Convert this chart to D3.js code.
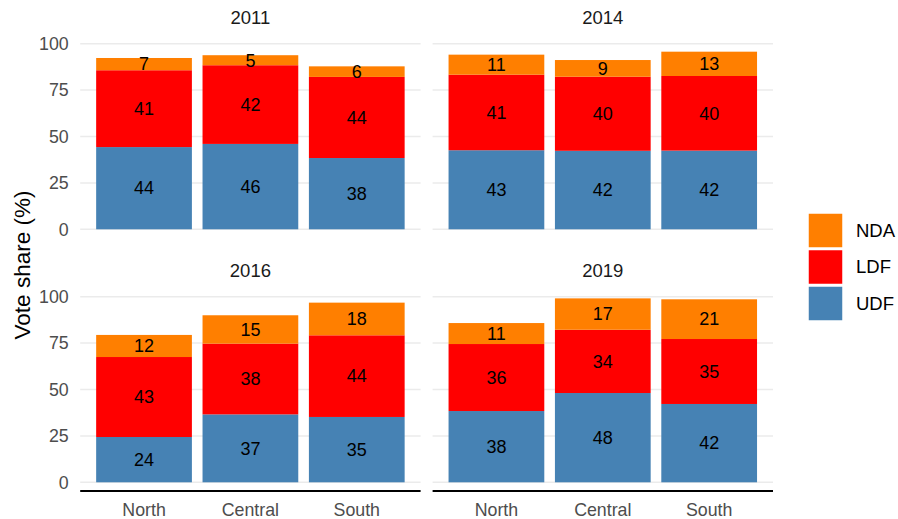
<!DOCTYPE html>
<html>
<head>
<meta charset="utf-8">
<script src="https://cdn.jsdelivr.net/npm/d3@7"></script>
<style>
  body { margin: 0; background: #fff; }
  text { font-family: "Liberation Sans", Arial, sans-serif; }
</style>
</head>
<body>
<div id="chart"></div>
<script>
// data
var years = ['2011', '2014', '2016', '2019'];
var regions = ['North', 'Central', 'South'];
var parties = ['UDF', 'LDF', 'NDA'];
var partyColors = ['steelblue', '#FF0000', '#FF7F00'];
var yTicks = [0, 25, 50, 75, 100];

// one array per party, in order years x regions
var udf = [44.3, 46.0, 38.4,  42.6, 42.3, 42.4,  24.4, 36.6, 35.2,  38.4, 48.1, 42.2];
var ldf = [41.4, 42.4, 43.7,  40.7, 39.9, 40.2,  43.1, 38.1, 44.0,  36.1, 34.1, 35.0];
var nda = [6.6, 5.4, 5.7,     10.8, 9.0, 13.1,   11.9, 15.3, 17.6,  11.3, 16.9, 21.4];

var width = 898, height = 519;
var panelW = 340.4, panelGap = 12;
var panelLeft = [80.2, 80.2 + panelW + panelGap];
var panelZero = [229.3, 482.3];   // pixel of y = 0 for each row
var unitPx = 1.856;              // pixels per vote-share point

var svg = d3.select('#chart')
    .append('svg')
    .attr('width', width)
    .attr('height', height);

var rows = years.map(function (year, i) {
    return regions.map(function (region, j) {
        var k = i * 3 + j;
        return { year: year, region: region, UDF: udf[k], LDF: ldf[k], NDA: nda[k] };
    });
});

var stack = d3.stack().keys(parties);
var color = d3.scaleOrdinal().domain(parties).range(partyColors);

years.forEach(function (year, i) {
    var col = i % 2, row = Math.floor(i / 2);
    var x0 = panelLeft[col];
    var xScale = d3.scaleBand()
        .domain(regions)
        .range([x0, x0 + panelW])
        .paddingInner(0.1)
        .paddingOuter(0.15);
    var yScale = d3.scaleLinear()
        .domain([0, 100])
        .range([panelZero[row], panelZero[row] - 100 * unitPx]);

    var panel = svg.append('g').attr('class', 'panel');

    // grid
    panel.selectAll('.grid')
        .data(yTicks)
        .enter()
        .append('line')
        .attr('x1', x0)
        .attr('x2', x0 + panelW)
        .attr('y1', function (d) { return yScale(d); })
        .attr('y2', function (d) { return yScale(d); })
        .attr('stroke', '#EBEBEB')
        .attr('stroke-width', 1.5);

    // strip title
    panel.append('text')
        .attr('x', x0 + panelW / 2)
        .attr('y', yScale(100) - 19.4)
        .attr('text-anchor', 'middle')
        .style('font-size', '18.5px')
        .attr('fill', '#1A1A1A')
        .text(year);

    // y axis labels on left column only
    if (col == 0) {
        var yAxis = d3.axisLeft(yScale).tickValues(yTicks).tickSize(0).tickPadding(11.5);
        var ga = panel.append('g')
            .attr('transform', 'translate(' + x0 + ',0)')
            .call(yAxis);
        ga.select('.domain').remove();
        ga.selectAll('text')
            .style('font-size', '17.8px')
            .attr('fill', '#4D4D4D');
    }

    // x axis on bottom row
    if (row == 1) {
        panel.append('line')
            .attr('x1', x0)
            .attr('x2', x0 + panelW)
            .attr('y1', 491)
            .attr('y2', 491)
            .attr('stroke', '#000')
            .attr('stroke-width', 2);
        var xAxis = d3.axisBottom(xScale).tickSize(0).tickPadding(12);
        var gx = panel.append('g')
            .attr('transform', 'translate(0,491)')
            .call(xAxis);
        gx.select('.domain').remove();
        gx.selectAll('text')
            .style('font-size', '17.8px')
            .attr('fill', '#4D4D4D');
    }

    var series = stack(rows[i]);

    var layers = panel.selectAll('.layer')
        .data(series)
        .enter()
        .append('g')
        .attr('fill', function (d) { return color(d.key); });

    layers.selectAll('rect')
        .data(function (d) { return d; })
        .enter()
        .append('rect')
        .attr('x', function (d) { return xScale(d.data.region); })
        .attr('width', xScale.bandwidth())
        .attr('y', function (d) { return yScale(d[1]); })
        .attr('height', function (d) { return yScale(d[0]) - yScale(d[1]); });

    layers.selectAll('text')
        .data(function (d) { return d; })
        .enter()
        .append('text')
        .attr('x', function (d) { return xScale(d.data.region) + xScale.bandwidth() / 2; })
        .attr('y', function (d) { return yScale((d[0] + d[1]) / 2); })
        .attr('dy', '0.35em')
        .attr('text-anchor', 'middle')
        .attr('fill', '#000')
        .style('font-size', '18px')
        .text(function (d) { return Math.round(d[1] - d[0]); });
});

// y axis title
svg.append('text')
    .attr('transform', 'translate(30,265) rotate(-90)')
    .attr('text-anchor', 'middle')
    .style('font-size', '22.5px')
    .attr('fill', '#000')
    .text('Vote share (%)');

// legend, NDA on top
var legend = svg.append('g')
    .attr('class', 'legend')
    .attr('transform', 'translate(808,213)');

var legendKeys = parties.slice().reverse();

legend.selectAll('rect')
    .data(legendKeys)
    .enter()
    .append('rect')
    .attr('x', 0)
    .attr('y', function (d, i) { return i * 36.5; })
    .attr('width', 35)
    .attr('height', 35)
    .attr('fill', function (d) { return color(d); })
    .attr('stroke', '#fff')
    .attr('stroke-width', 1.5);

legend.selectAll('text')
    .data(legendKeys)
    .enter()
    .append('text')
    .attr('x', 48)
    .attr('y', function (d, i) { return i * 36.5 + 17.5; })
    .attr('dy', '0.35em')
    .style('font-size', '18.5px')
    .attr('fill', '#000')
    .text(function (d) { return d; });
</script>
</body>
</html>
